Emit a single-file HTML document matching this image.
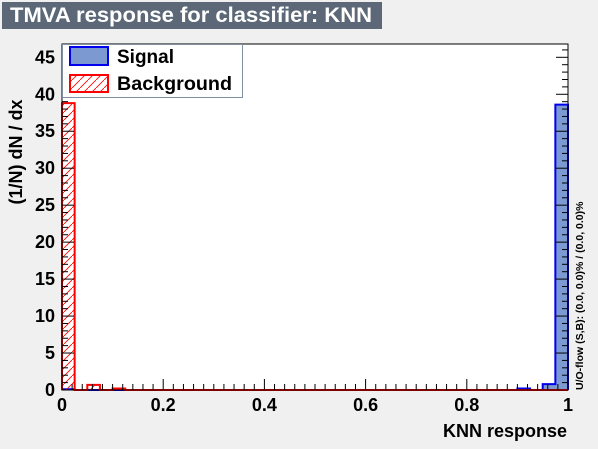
<!DOCTYPE html>
<html><head><meta charset="utf-8"><style>
body{margin:0;background:#f0f0f0;}
svg text{font-family:"Liberation Sans",sans-serif;font-weight:bold;}
</style></head><body>
<svg width="598" height="444" xmlns="http://www.w3.org/2000/svg">
<defs><pattern id="hatch" patternUnits="userSpaceOnUse" width="8" height="8"><path d="M0,8 L8,0" stroke="#ff0000" stroke-width="0.8"/></pattern></defs>
<rect x="0" y="0" width="598" height="444" fill="#f0f0f0"/>
<rect x="2" y="2" width="380" height="27" fill="#5c6878"/>
<text x="10" y="22" font-size="21" textLength="362" lengthAdjust="spacingAndGlyphs" fill="#fff">TMVA response for classifier: KNN</text>
<rect x="62" y="44" width="506" height="346" fill="#fff"/>
<g id="marks"></g>
<g id="axes"></g>
<rect x="62" y="44" width="506" height="346" fill="none" stroke="#000" stroke-width="1"/>
<g>
<rect x="62.5" y="44.5" width="180" height="53" fill="#fff" stroke="#8090a0"/>
<rect x="70" y="47" width="38" height="18" fill="#7d99d1" stroke="#0000ee" stroke-width="2"/>
<text x="117" y="63" font-size="19">Signal</text>
<rect x="70" y="75" width="38" height="17" fill="url(#hatch)" stroke="#ff0000" stroke-width="2"/>
<text x="117" y="90" font-size="19" textLength="115" lengthAdjust="spacingAndGlyphs">Background</text>
</g>
<text x="567" y="437" font-size="18" text-anchor="end">KNN response</text>
<text transform="translate(22,152) rotate(-90)" font-size="18" text-anchor="middle">(1/N) dN / dx</text>
<text transform="translate(583,390) rotate(-90)" font-size="10.5">U/O-flow (S,B): (0.0, 0.0)% / (0.0, 0.0)%</text>
</svg>
<script>
const nbins = 40;
const signal = [0.1,0,0,0,0,0,0,0,0,0,0,0,0,0,0,0,0,0,0,0,0,0,0,0,0,0,0,0,0,0,0,0,0,0,0,0,0.2,0,0.8,38.6];
const background = [38.8,0,0.7,0,0.2,0,0,0,0,0,0,0,0,0,0,0,0,0,0,0,0,0,0,0,0,0,0,0,0,0,0,0,0,0,0,0,0,0,0,0];
const xTicks = [0,0.2,0.4,0.6,0.8,1];
const xTickLabels = ["0","0.2","0.4","0.6","0.8","1"];
const yTicks = [0,5,10,15,20,25,30,35,40,45];
const X0=62,X1=568,Y0=390,Y1=44,YMAX=46.8;
const sx=v=>X0+v*(X1-X0);
const sy=v=>Y0-v/YMAX*(Y0-Y1);
const NS="http://www.w3.org/2000/svg";
const marks=document.getElementById('marks'), axes=document.getElementById('axes');
function mk(tag,at,parent){const e=document.createElementNS(NS,tag);for(const k in at)e.setAttribute(k,at[k]);parent.appendChild(e);return e;}
function hist(vals,fill,stroke,name){
  let d=`M${sx(0)},${sy(0)}`;
  vals.forEach((v,i)=>{d+=` L${sx(i/nbins)},${sy(v)} L${sx((i+1)/nbins)},${sy(v)}`;});
  d+=` L${sx(1)},${sy(0)}`;
  const p=mk('path',{d:d,fill:fill,stroke:stroke,'stroke-width':2},marks);
  
  
}
hist(signal,'#7d99d1','#0000ee','signal-histogram');
hist(background,'url(#hatch)','#ff0000','background-histogram');
for(let i=0;i<=50;i++){const v=i/50;const big=i%10==0;
  mk('line',{x1:sx(v),x2:sx(v),y1:Y0,y2:Y0-(big?11:6),stroke:'#000'},axes);}
xTicks.forEach((v,i)=>{const t=mk('text',{x:sx(v),y:411,'font-size':18,'text-anchor':'middle'},axes);t.textContent=xTickLabels[i];
  
  });
for(let v=0;v<=46;v++){const big=v%5==0;
  mk('line',{x1:X0,x2:X0+(big?12:6),y1:sy(v),y2:sy(v),stroke:'#000'},axes);
  mk('line',{x1:X1,x2:X1-(big?12:6),y1:sy(v),y2:sy(v),stroke:'#000'},axes);}
yTicks.forEach(v=>{const t=mk('text',{x:55,y:sy(v)+6,'font-size':18,'text-anchor':'end'},axes);t.textContent=v;
  
  });
</script>
</body></html>
